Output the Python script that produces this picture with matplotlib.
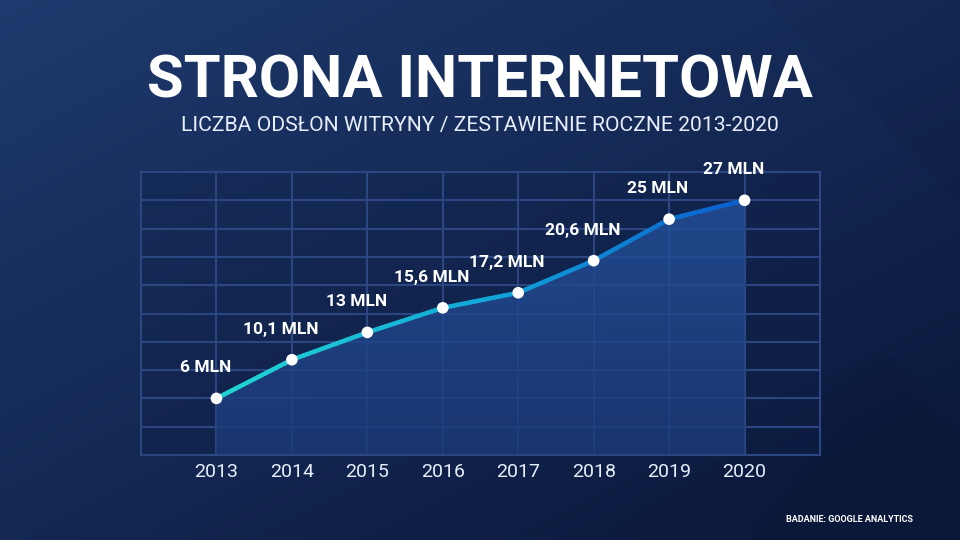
import numpy as np
import matplotlib
matplotlib.use("Agg")
import matplotlib.pyplot as plt
from matplotlib.collections import LineCollection
from matplotlib.colors import LinearSegmentedColormap, to_rgb
from matplotlib.patches import Polygon

years = [2013, 2014, 2015, 2016, 2017, 2018, 2019, 2020]
values = [6, 10.1, 13, 15.6, 17.2, 20.6, 25, 27]
labels = ["6 MLN", "10,1 MLN", "13 MLN", "15,6 MLN", "17,2 MLN", "20,6 MLN", "25 MLN", "27 MLN"]
title = "STRONA INTERNETOWA"
subtitle = "LICZBA ODSŁON WITRYNY / ZESTAWIENIE ROCZNE 2013-2020"
source = "BADANIE: GOOGLE ANALYTICS"

FONT = ["Roboto", "DejaVu Sans"]
plt.rcParams['font.family'] = FONT

fig = plt.figure(figsize=(9.6, 5.4), dpi=100)

# background gradient
bg = fig.add_axes([0, 0, 1, 1], zorder=0)
bg.set_axis_off()
h, w = 270, 480
yy, xx = np.mgrid[0:1:h*1j, 0:1:w*1j]
t = np.clip(0.55 * xx + 0.6 * yy, 0, 1)
c0 = np.array(to_rgb("#1e3a6e"))
c1 = np.array(to_rgb("#0c1b3f"))
img = c0[None, None, :] * (1 - t[..., None]) + c1[None, None, :] * t[..., None]
bg.imshow(img, extent=[0, 1, 0, 1], aspect='auto', origin='upper')
# faint geometric shapes
for pts, a in [([(0.62, 0.0), (0.92, 0.35), (1.0, 0.25), (1.0, 0.0)], 0.10),
               ([(0.78, 0.0), (0.92, 0.30), (1.0, 0.20), (1.0, 0.0)], 0.08),
               ([(0.80, 1.0), (1.0, 0.62), (1.0, 1.0)], 0.06)]:
    bg.add_patch(Polygon(pts, closed=True, facecolor="#06102a", alpha=a, edgecolor='none'))
bg.set_xlim(0, 1)
bg.set_ylim(0, 1)

ax = fig.add_axes([141/960, 1 - 455/540, 679/960, 283/540], zorder=1)
ax.set_facecolor((0.06, 0.12, 0.28, 0.35))
ax.set_xlim(2012, 2021)
ax.set_ylim(0, 30)

grid_c = "#2b4680"
ax.set_xticks(years)
ax.set_xticks([2012, 2021], minor=True)
ax.set_yticks(np.arange(0, 31, 3))
ax.grid(True, which='both', color=grid_c, lw=1.5)
ax.set_axisbelow(True)
for s in ax.spines.values():
    s.set_color(grid_c)
    s.set_linewidth(1.5)

ax.set_yticklabels([])
ax.set_xticklabels([str(y) for y in years], color="#e8eefc", fontsize=14)
ax.tick_params(axis='x', which='both', length=0, pad=6)
ax.tick_params(axis='y', which='both', length=0)

# gradient area fill
poly = ax.fill_between(years, values, 0, facecolor='none', edgecolor='none', zorder=2)
area_cmap = LinearSegmentedColormap.from_list("area", ["#1c3a78", "#25519a"])
grad = np.linspace(0, 1, 256).reshape(-1, 1)
im = ax.imshow(grad, extent=[years[0], years[-1], 0, max(values)], origin='lower',
               aspect='auto', cmap=area_cmap, zorder=2, alpha=0.82)
im.set_clip_path(poly.get_paths()[0], transform=ax.transData)

# gradient line
line_cmap = LinearSegmentedColormap.from_list("ln", ["#22d6d2", "#12a8d8", "#0a5fcf"])
xs, ys = [], []
for i in range(len(years) - 1):
    f = np.linspace(0, 1, 20, endpoint=False)
    xs.extend(years[i] + (years[i+1] - years[i]) * f)
    ys.extend(values[i] + (values[i+1] - values[i]) * f)
xs.append(years[-1]); ys.append(values[-1])
xs, ys = np.array(xs), np.array(ys)
segs = np.stack([np.column_stack([xs[:-1], ys[:-1]]), np.column_stack([xs[1:], ys[1:]])], axis=1)
lc = LineCollection(segs, cmap=line_cmap, linewidths=3.2, zorder=3, capstyle='round')
lc.set_array((xs[:-1] - years[0]) / (years[-1] - years[0]))
ax.add_collection(lc)

ax.scatter(years, values, s=70, color='white', zorder=4, edgecolors='none')

for x, y, lab in zip(years, values, labels):
    ax.annotate(lab, (x, y), xytext=(-8, 22), textcoords='offset points',
                ha='center', va='center', color='white', fontsize=12.5, fontweight='bold',
                zorder=5, annotation_clip=False)

fig.text(0.5, 1 - 82/540, title, ha='center', va='center', color='white',
         fontsize=43, fontweight='bold')
fig.text(0.5, 1 - 125/540, subtitle, ha='center', va='center', color='#e8eefc',
         fontsize=15.2)
fig.text(913/960, 1 - 519/540, source, ha='right', va='center', color='white',
         fontsize=6.5, fontweight='bold')

fig.savefig("out.png", dpi=100)
